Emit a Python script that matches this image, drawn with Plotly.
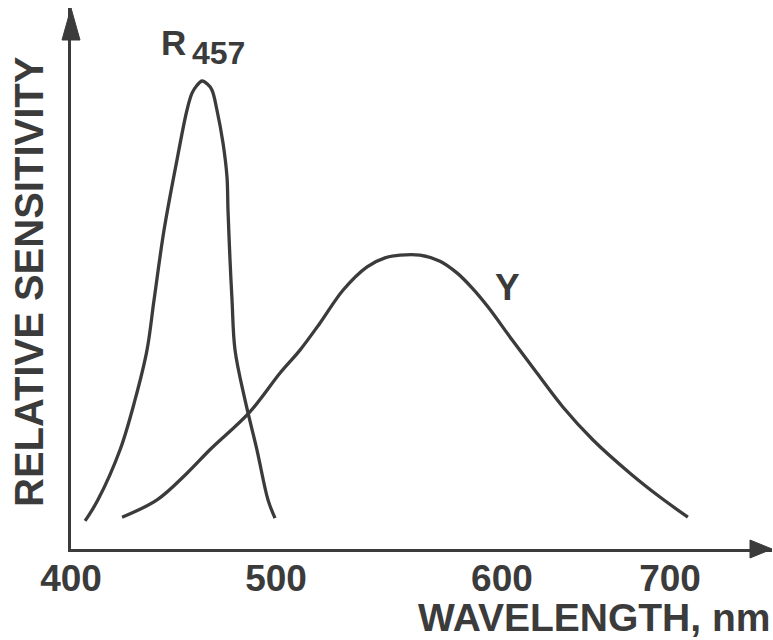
import plotly.graph_objects as go

# ---- data ----
r457_wl = [409.0, 415.4, 426.4, 433.8, 439.8, 443.3, 448.3, 454.7, 459.7, 462.2, 464.7,
           467.2, 469.7, 472.1, 474.6, 477.6, 479.6, 480.1, 481.1, 482.1, 483.6, 488.6,
           494.5, 500.0, 503.5]
r457_val = [0.060, 0.105, 0.212, 0.318, 0.425, 0.532, 0.682, 0.831, 0.938, 0.974, 0.991,
            1.000, 0.994, 0.981, 0.938, 0.868, 0.795, 0.724, 0.618, 0.532, 0.425, 0.318,
            0.212, 0.105, 0.066]

y_wl = [427.4, 444.8, 459.7, 471.1, 491.0, 506.0, 515.9, 525.9, 537.3, 549.3, 558.2,
        565.7, 575.6, 585.6, 594.0, 601.5, 609.5, 621.4, 633.8, 646.8, 661.7, 680.1, 695.0, 708.9]
y_val = [0.068, 0.105, 0.162, 0.212, 0.293, 0.376, 0.425, 0.483, 0.553, 0.603, 0.622,
         0.628, 0.628, 0.615, 0.590, 0.558, 0.517, 0.447, 0.376, 0.303, 0.233, 0.162, 0.111, 0.068]

tick_pos = [402.0, 504.0, 616.4, 700.0]
tick_text = ["400", "500", "600", "700"]

x_title = "WAVELENGTH, nm"
y_title = "RELATIVE SENSITIVITY"

# ---- style ----
INK = "#3b3b3b"
FONT = "Liberation Sans, Arial, sans-serif"
W, H = 773, 640
ML, MR, MT, MB = 71, 1, 8, 91
PW, PH = W - ML - MR, H - MT - MB

fig = go.Figure()
fig.add_trace(go.Scatter(x=r457_wl, y=r457_val, mode="lines",
                         line=dict(color=INK, width=3.3, shape="spline", smoothing=1.0),
                         hoverinfo="skip", showlegend=False))
fig.add_trace(go.Scatter(x=y_wl, y=y_val, mode="lines",
                         line=dict(color=INK, width=3.3, shape="spline", smoothing=1.0),
                         hoverinfo="skip", showlegend=False))

def px2paper_x(dx):
    return dx / PW

def px2paper_y(dy):
    return dy / PH

shapes = [
    # y-axis arrow head
    dict(type="path", xref="paper", yref="paper",
         path=f"M 0 1 L {px2paper_x(-9)} {1 - px2paper_y(32)} L {px2paper_x(9)} {1 - px2paper_y(32)} Z",
         fillcolor=INK, line=dict(color=INK, width=1)),
    # x-axis arrow head
    dict(type="path", xref="paper", yref="paper",
         path=f"M 1 0 L {1 - px2paper_x(22)} {px2paper_y(9)} L {1 - px2paper_x(22)} {px2paper_y(-9)} Z",
         fillcolor=INK, line=dict(color=INK, width=1)),
]

annotations = [
    dict(text="R", x=453.2, y=1.083, xref="x", yref="y", showarrow=False,
         font=dict(family=FONT, size=35, color=INK, weight="bold")),
    dict(text="457", x=475.6, y=1.060, xref="x", yref="y", showarrow=False,
         font=dict(family=FONT, size=32, color=INK, weight="bold")),
    dict(text="Y", x=619.4, y=0.558, xref="x", yref="y", showarrow=False,
         font=dict(family=FONT, size=37, color=INK, weight="bold")),
    dict(text=x_title, x=1.0, y=-px2paper_y(617 - 549), xref="paper", yref="paper",
         xanchor="right", yanchor="middle", showarrow=False,
         font=dict(family=FONT, size=39, color=INK, weight="bold")),
    dict(text=y_title, x=-px2paper_x(ML - 29), y=px2paper_y(549 - 282), xref="paper", yref="paper",
         xanchor="center", yanchor="middle", textangle=-90, showarrow=False,
         font=dict(family=FONT, size=40, color=INK, weight="bold")),
]

fig.update_layout(
    width=W, height=H,
    margin=dict(l=ML, r=MR, t=MT, b=MB, autoexpand=False),
    paper_bgcolor="white", plot_bgcolor="white",
    shapes=shapes, annotations=annotations,
    xaxis=dict(range=[401.99, 750.75], showgrid=False, zeroline=False,
               showline=True, linecolor=INK, linewidth=2.5,
               tickvals=tick_pos, ticktext=tick_text, ticks="",
               ticklabelstandoff=-5, automargin=False,
               tickfont=dict(family=FONT, size=37, color=INK, weight="bold")),
    yaxis=dict(range=[0, 1.156], showgrid=False, zeroline=False,
               showline=True, linecolor=INK, linewidth=2.5, automargin=False,
               showticklabels=False, ticks=""),
)

fig.write_html("out.html", config={"displayModeBar": False},
               post_script="document.body.style.margin='0';document.body.style.overflow='hidden';")
